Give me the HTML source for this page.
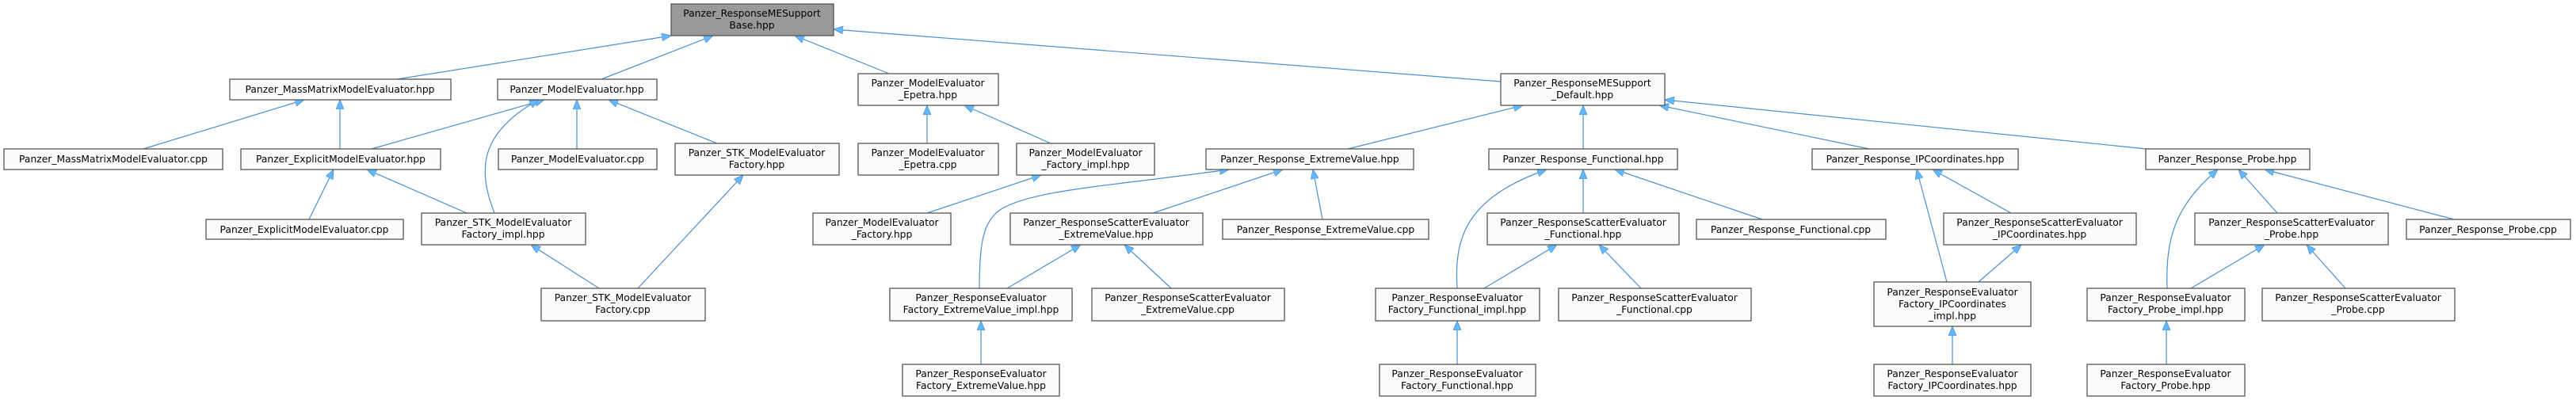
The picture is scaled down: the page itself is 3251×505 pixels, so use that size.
<!DOCTYPE html>
<html><head><meta charset="utf-8"><style>
html,body{margin:0;padding:0;background:#fff;}
svg{display:block;}
text{font-family:"DejaVu Sans","Liberation Sans",sans-serif;font-size:12.3px;fill:#000;text-anchor:middle;}
rect{fill:#fcfcfa;stroke:#555;stroke-width:1.3;}
.e{fill:none;stroke:#4a8fd0;stroke-width:1.2;marker-end:url(#a);}
</style></head><body>
<svg width="3251" height="505" viewBox="0 0 3251 505" xmlns="http://www.w3.org/2000/svg">
<defs><marker id="a" markerUnits="userSpaceOnUse" markerWidth="14" markerHeight="10" refX="12" refY="5" orient="auto"><path d="M0,0 L12,5 L0,10 z" fill="#63b8ff" stroke="#4a8fd0" stroke-width="0.8"/></marker></defs>

<!-- edges -->
<path class="e" d="M501,100 L847,45"/>
<path class="e" d="M759,100 L900,45"/>
<path class="e" d="M1122,93 L1003,45"/>
<path class="e" d="M1894,103 L1052,37"/>
<path class="e" d="M1701,188 L1922,133"/>
<path class="e" d="M1998,188 L1998,133"/>
<path class="e" d="M2359,188 L2094,133"/>
<path class="e" d="M2709,188 L2101,126"/>
<path class="e" d="M181,188 L384,126"/>
<path class="e" d="M429,188 L429,126"/>
<path class="e" d="M469,188 L687,126"/>
<path class="e" d="M624,269 C605,220 600,170 680,126"/>
<path class="e" d="M728,188 L728,126"/>
<path class="e" d="M905,181 L768,126"/>
<path class="e" d="M390,277 L421,214"/>
<path class="e" d="M589,269 L463,214"/>
<path class="e" d="M756,364 L670,309"/>
<path class="e" d="M805,364 L938,221"/>
<path class="e" d="M1170,181 L1170,133"/>
<path class="e" d="M1326,181 L1217,133"/>
<path class="e" d="M1170,269 L1314,221"/>
<path class="e" d="M1455,269 L1619,214"/>
<path class="e" d="M1669,277 L1657,214"/>
<path class="e" d="M1236,364 C1236,310 1240,280 1262,265 C1300,240 1400,235 1551,214"/>
<path class="e" d="M1271,364 L1364,309"/>
<path class="e" d="M1478,364 L1419,309"/>
<path class="e" d="M1238,460 L1238,405"/>
<path class="e" d="M1839,364 C1835,300 1850,250 1952,214"/>
<path class="e" d="M1998,269 L1998,214"/>
<path class="e" d="M2224,277 L2038,214"/>
<path class="e" d="M1873,364 L1965,309"/>
<path class="e" d="M2071,364 L2018,309"/>
<path class="e" d="M1839,460 L1839,405"/>
<path class="e" d="M2457,356 L2419,214"/>
<path class="e" d="M2538,269 L2439,214"/>
<path class="e" d="M2497,356 L2551,309"/>
<path class="e" d="M2464,460 L2464,412"/>
<path class="e" d="M2735,364 C2733,300 2745,260 2799,214"/>
<path class="e" d="M2874,269 L2825,214"/>
<path class="e" d="M3097,277 L2858,214"/>
<path class="e" d="M2765,364 L2858,309"/>
<path class="e" d="M2960,364 L2911,309"/>
<path class="e" d="M2734,460 L2734,405"/>

<!-- nodes -->
<rect x="847" y="5" width="205" height="40" style="fill:#999"/>
<text x="949" y="21">Panzer_ResponseMESupport</text><text x="949" y="36">Base.hpp</text>

<rect x="290" y="100" width="279" height="26"/><text x="429" y="117">Panzer_MassMatrixModelEvaluator.hpp</text>
<rect x="628" y="100" width="201" height="26"/><text x="728" y="117">Panzer_ModelEvaluator.hpp</text>
<rect x="1083" y="93" width="177" height="40"/><text x="1171" y="109">Panzer_ModelEvaluator</text><text x="1171" y="124">_Epetra.hpp</text>
<rect x="1894" y="93" width="207" height="40"/><text x="1997" y="109">Panzer_ResponseMESupport</text><text x="1997" y="124">_Default.hpp</text>

<rect x="5" y="188" width="276" height="26"/><text x="143" y="205">Panzer_MassMatrixModelEvaluator.cpp</text>
<rect x="304" y="188" width="252" height="26"/><text x="430" y="205">Panzer_ExplicitModelEvaluator.hpp</text>
<rect x="629" y="188" width="200" height="26"/><text x="729" y="205">Panzer_ModelEvaluator.cpp</text>
<rect x="852" y="181" width="207" height="40"/><text x="955" y="197">Panzer_STK_ModelEvaluator</text><text x="955" y="212">Factory.hpp</text>
<rect x="1083" y="181" width="177" height="40"/><text x="1171" y="197">Panzer_ModelEvaluator</text><text x="1171" y="212">_Epetra.cpp</text>
<rect x="1283" y="181" width="174" height="40"/><text x="1370" y="197">Panzer_ModelEvaluator</text><text x="1370" y="212">_Factory_impl.hpp</text>
<rect x="1522" y="188" width="262" height="26"/><text x="1653" y="205">Panzer_Response_ExtremeValue.hpp</text>
<rect x="1879" y="188" width="238" height="26"/><text x="1998" y="205">Panzer_Response_Functional.hpp</text>
<rect x="2287" y="188" width="260" height="26"/><text x="2417" y="205">Panzer_Response_IPCoordinates.hpp</text>
<rect x="2708" y="188" width="207" height="26"/><text x="2811" y="205">Panzer_Response_Probe.hpp</text>

<rect x="260" y="277" width="249" height="25"/><text x="384" y="294">Panzer_ExplicitModelEvaluator.cpp</text>
<rect x="532" y="269" width="207" height="40"/><text x="635" y="285">Panzer_STK_ModelEvaluator</text><text x="635" y="300">Factory_impl.hpp</text>
<rect x="1026" y="269" width="174" height="40"/><text x="1113" y="285">Panzer_ModelEvaluator</text><text x="1113" y="300">_Factory.hpp</text>
<rect x="1275" y="269" width="243" height="40"/><text x="1396" y="285">Panzer_ResponseScatterEvaluator</text><text x="1396" y="300">_ExtremeValue.hpp</text>
<rect x="1543" y="277" width="260" height="25"/><text x="1673" y="294">Panzer_Response_ExtremeValue.cpp</text>
<rect x="1877" y="269" width="242" height="40"/><text x="1998" y="285">Panzer_ResponseScatterEvaluator</text><text x="1998" y="300">_Functional.hpp</text>
<rect x="2141" y="277" width="239" height="25"/><text x="2260" y="294">Panzer_Response_Functional.cpp</text>
<rect x="2453" y="269" width="243" height="40"/><text x="2574" y="285">Panzer_ResponseScatterEvaluator</text><text x="2574" y="300">_IPCoordinates.hpp</text>
<rect x="2770" y="269" width="244" height="40"/><text x="2892" y="285">Panzer_ResponseScatterEvaluator</text><text x="2892" y="300">_Probe.hpp</text>
<rect x="3037" y="277" width="207" height="25"/><text x="3140" y="294">Panzer_Response_Probe.cpp</text>

<rect x="683" y="364" width="207" height="41"/><text x="786" y="380">Panzer_STK_ModelEvaluator</text><text x="786" y="395">Factory.cpp</text>
<rect x="1123" y="364" width="230" height="41"/><text x="1238" y="380">Panzer_ResponseEvaluator</text><text x="1238" y="395">Factory_ExtremeValue_impl.hpp</text>
<rect x="1378" y="364" width="243" height="41"/><text x="1499" y="380">Panzer_ResponseScatterEvaluator</text><text x="1499" y="395">_ExtremeValue.cpp</text>
<rect x="1736" y="364" width="207" height="41"/><text x="1839" y="380">Panzer_ResponseEvaluator</text><text x="1839" y="395">Factory_Functional_impl.hpp</text>
<rect x="1967" y="364" width="243" height="41"/><text x="2088" y="380">Panzer_ResponseScatterEvaluator</text><text x="2088" y="395">_Functional.cpp</text>
<rect x="2365" y="356" width="198" height="56"/><text x="2464" y="373">Panzer_ResponseEvaluator</text><text x="2464" y="388">Factory_IPCoordinates</text><text x="2464" y="403">_impl.hpp</text>
<rect x="2634" y="364" width="199" height="41"/><text x="2733" y="380">Panzer_ResponseEvaluator</text><text x="2733" y="395">Factory_Probe_impl.hpp</text>
<rect x="2855" y="364" width="243" height="41"/><text x="2976" y="380">Panzer_ResponseScatterEvaluator</text><text x="2976" y="395">_Probe.cpp</text>

<rect x="1139" y="460" width="198" height="40"/><text x="1238" y="476">Panzer_ResponseEvaluator</text><text x="1238" y="491">Factory_ExtremeValue.hpp</text>
<rect x="1741" y="460" width="197" height="40"/><text x="1839" y="476">Panzer_ResponseEvaluator</text><text x="1839" y="491">Factory_Functional.hpp</text>
<rect x="2365" y="460" width="198" height="40"/><text x="2464" y="476">Panzer_ResponseEvaluator</text><text x="2464" y="491">Factory_IPCoordinates.hpp</text>
<rect x="2634" y="460" width="199" height="40"/><text x="2733" y="476">Panzer_ResponseEvaluator</text><text x="2733" y="491">Factory_Probe.hpp</text>
</svg>
</body></html>
